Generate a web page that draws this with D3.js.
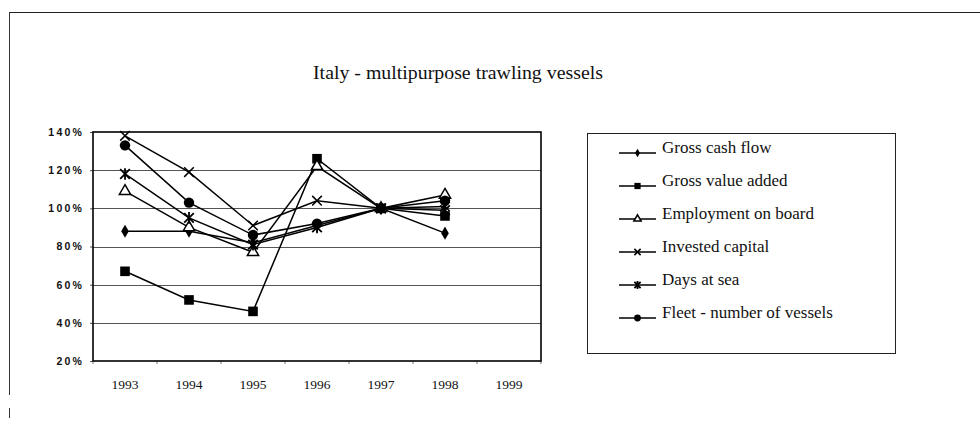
<!DOCTYPE html>
<html><head><meta charset="utf-8">
<script src="https://cdn.jsdelivr.net/npm/d3@7"></script>
<style>body{margin:0;background:#fff}svg{display:block}</style>
</head><body>
<svg id="c" width="980" height="428"></svg>
<script>
const title = "Italy - multipurpose trawling vessels";
const years = ["1993","1994","1995","1996","1997","1998","1999"];
const yTicks = [20,40,60,80,100,120,140];
const seriesNames = ["Gross cash flow","Gross value added","Employment on board","Invested capital","Days at sea","Fleet - number of vessels"];
const grossCashFlow   = [88, 88, 82, 91, 100, 87];
const grossValueAdded = [67, 52, 46, 126, 100, 96];
const employment      = [109, 90, 77, 122, 100, 107];
const investedCapital = [138, 119, 91, 104, 100, 101];
const daysAtSea       = [118, 95, 81, 90, 100, 99];
const fleet           = [133, 103, 86, 92, 100, 104];
const seriesValues = [grossCashFlow, grossValueAdded, employment, investedCapital, daysAtSea, fleet];
const markers = ["diamond","square","triangle","x","asterisk","circle"];

const svg = d3.select("#c");
const P = {l:93, r:541, t:132, b:361};
const x = d3.scaleBand().domain(years).range([P.l,P.r]);
const y = d3.scaleLinear().domain([20,140]).range([P.b,P.t]);

// outer frame
svg.append("line").attr("x1",10).attr("x2",980).attr("y1",12.5).attr("y2",12.5).attr("stroke","#222").attr("stroke-width",1.2);
svg.append("line").attr("x1",9.5).attr("x2",9.5).attr("y1",12).attr("y2",395).attr("stroke","#333").attr("stroke-width",1);
svg.append("line").attr("x1",9.5).attr("x2",9.5).attr("y1",408).attr("y2",418).attr("stroke","#333").attr("stroke-width",1);

svg.append("text").attr("x",313).attr("y",79)
  .attr("font-family","Liberation Serif").attr("font-size",18).attr("fill","#111")
  .attr("textLength",290).attr("lengthAdjust","spacingAndGlyphs").text(title);

// gridlines
svg.append("g").selectAll("line").data(yTicks.filter(v=>v>20&&v<140)).join("line")
  .attr("x1",P.l).attr("x2",P.r).attr("y1",d=>Math.round(y(d))+0.5).attr("y2",d=>Math.round(y(d))+0.5)
  .attr("stroke","#555").attr("stroke-width",1);

// y axis
const ya = svg.append("g").attr("transform",`translate(${P.l},0)`)
  .call(d3.axisLeft(y).tickValues(yTicks).tickSize(3).tickFormat(d=>d+"%"));
ya.select(".domain").remove();
ya.selectAll("text").attr("font-family","Liberation Sans").attr("font-weight","bold").attr("font-size",10.5)
  .attr("letter-spacing","2.2px").attr("fill","#111").attr("x",-9);
ya.selectAll("line").attr("stroke","#555");

// x axis
const xa = svg.append("g").attr("transform",`translate(0,${P.b})`)
  .call(d3.axisBottom(x).tickSize(0).tickPadding(18));
xa.select(".domain").remove();
xa.selectAll("text").attr("font-family","Liberation Serif").attr("font-size",13.5).attr("fill","#111");
svg.append("g").selectAll("line").data(years.concat(["end"])).join("line")
  .attr("x1",(d,i)=>P.l+i*x.step()).attr("x2",(d,i)=>P.l+i*x.step())
  .attr("y1",P.b).attr("y2",P.b+3).attr("stroke","#777");

// plot border
svg.append("rect").attr("x",P.l).attr("y",P.t).attr("width",P.r-P.l).attr("height",P.b-P.t)
  .attr("fill","none").attr("stroke","#000").attr("stroke-width",1.6);

function drawMarker(g, type, cx, cy, s){
  s = s||1;
  if(type==="diamond"){
    g.append("path").attr("d",d3.symbol(d3.symbolDiamond, 50*s*s)()).attr("transform",`translate(${cx},${cy})`).attr("fill","#000");
  } else if(type==="square"){
    const h=4.8*s; g.append("rect").attr("x",cx-h).attr("y",cy-h).attr("width",2*h).attr("height",2*h).attr("fill","#000");
  } else if(type==="triangle"){
    g.append("path").attr("d",d3.symbol(d3.symbolTriangle, 55*s*s)()).attr("transform",`translate(${cx},${cy})`).attr("fill","#fff").attr("stroke","#000").attr("stroke-width",1.5);
  } else if(type==="x"){
    const h=4.8*s;
    g.append("path").attr("d",`M${cx-h},${cy-h}L${cx+h},${cy+h}M${cx-h},${cy+h}L${cx+h},${cy-h}`).attr("stroke","#000").attr("stroke-width",1.5);
  } else if(type==="asterisk"){
    const h=4.8*s;
    g.append("path").attr("d",`M${cx-h},${cy-h}L${cx+h},${cy+h}M${cx-h},${cy+h}L${cx+h},${cy-h}M${cx},${cy-h-1}L${cx},${cy+h+1}`).attr("stroke","#000").attr("stroke-width",1.8);
  } else if(type==="circle"){
    g.append("circle").attr("cx",cx).attr("cy",cy).attr("r",5.2*s).attr("fill","#000");
  }
}

const line = d3.line().x((d,i)=>x(years[i])+x.bandwidth()/2).y(d=>y(d));
const sg = svg.append("g");
seriesValues.forEach((vals,k)=>{
  sg.append("path").datum(vals).attr("d",line).attr("fill","none").attr("stroke","#000").attr("stroke-width",1.5);
});
seriesValues.forEach((vals,k)=>{
  vals.forEach((v,i)=>drawMarker(sg, markers[k], x(years[i])+x.bandwidth()/2, y(v), 1));
});

// legend
const L = {x:587, y:133, w:308, h:220};
svg.append("rect").attr("x",L.x+0.5).attr("y",L.y+0.5).attr("width",L.w).attr("height",L.h).attr("fill","#fff").attr("stroke","#222").attr("stroke-width",1);
const lg = svg.append("g");
seriesNames.forEach((n,k)=>{
  const cy = 153 + k*33;
  lg.append("line").attr("x1",619).attr("x2",656).attr("y1",cy).attr("y2",cy).attr("stroke","#000").attr("stroke-width",1.5);
  drawMarker(lg, markers[k], 637.5, cy, 0.65);
  lg.append("text").attr("x",662).attr("y",cy).attr("font-family","Liberation Serif").attr("font-size",17).attr("fill","#111").text(n);
});
</script>
</body></html>
